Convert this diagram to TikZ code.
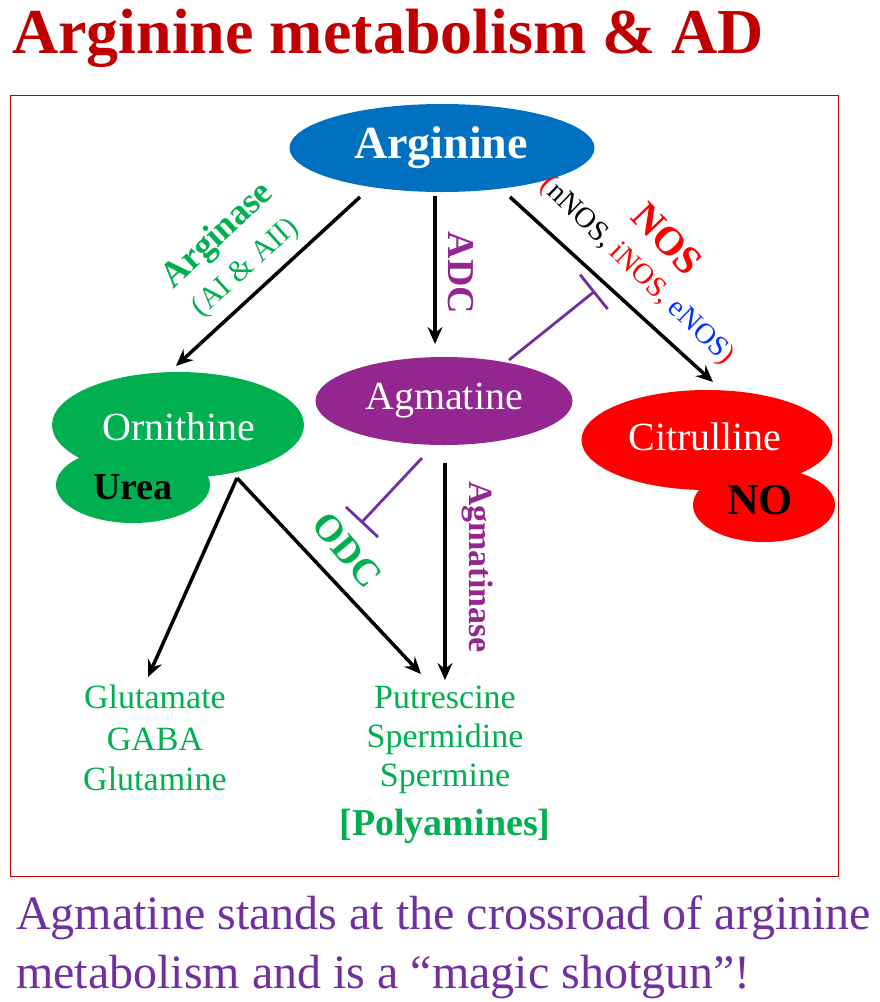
\documentclass[tikz,border=0pt]{standalone}
\usepackage{fontspec}
\setmainfont{Liberation Serif}
\usetikzlibrary{shapes.geometric,arrows.meta}
\definecolor{titlered}{HTML}{C00000}
\definecolor{argblue}{HTML}{0070C0}
\definecolor{agmpurple}{HTML}{93278F}
\definecolor{inhviolet}{HTML}{7030A0}
\definecolor{grn}{HTML}{00B050}
\definecolor{nosred}{HTML}{FF0000}
\definecolor{nosblue}{HTML}{0033FF}
\newcommand\fsz[1]{\fontsize{#1}{#1}\selectfont}
\tikzset{
  blob/.style={ellipse, inner sep=0pt, draw=none},
  conv/.style={line width=3.5pt, black, -{Stealth[length=17pt,width=15pt,inset=6pt]}},
  inhib/.style={line width=2.8pt, inhviolet, -{Bar[width=44pt,line width=2.8pt]}},
  lbl/.style={inner sep=0pt, anchor=center},
}
\begin{document}
\begin{tikzpicture}[x=1pt,y=-1pt]
\useasboundingbox (0,0) rectangle (880,1002);
% title
\node[lbl, anchor=west, text=titlered] (title) at (12,38) {\fsz{64}\bfseries Arginine metabolism \& AD};
% frame
\draw[titlered, line width=1pt] (10,95) rectangle (838,876);
% ellipses
\node[blob, fill=argblue, minimum width=305pt, minimum height=88pt] (arg) at (442,148) {};
\node[lbl, text=white] (argt) at (441,148) {\fsz{46}\bfseries Arginine};
\node[blob, fill=agmpurple, minimum width=257pt, minimum height=88pt] (agm) at (444,401) {};
\node[lbl, text=white] (agmt) at (444,401) {\fsz{40}Agmatine};
\node[blob, fill=grn, minimum width=252pt, minimum height=106pt] (orn) at (178,425) {};
\node[blob, fill=grn, minimum width=154pt, minimum height=76pt] (urea) at (133,485) {};
\node[lbl, text=white] (ornt) at (179,427) {\fsz{40}Ornithine};
\node[lbl, text=black] (ureat) at (133,487) {\fsz{38}\bfseries Urea};
\node[blob, fill=nosred, minimum width=251pt, minimum height=100pt] (cit) at (707,440) {};
\node[blob, fill=nosred, minimum width=142pt, minimum height=74pt] (no) at (764,505) {};
\node[lbl, text=white] (citt) at (705,437) {\fsz{40}Citrulline};
\node[lbl, text=black] (not) at (760,500) {\fsz{44}\bfseries NO};
% bottom product texts
\node[lbl, text=grn] (glu) at (155,697) {\fsz{34}Glutamate};
\node[lbl, text=grn] (gaba) at (155,739) {\fsz{34}GABA};
\node[lbl, text=grn] (gln) at (155,779) {\fsz{34}Glutamine};
\node[lbl, text=grn] (put) at (445,697) {\fsz{34}Putrescine};
\node[lbl, text=grn] (spd) at (445,739) {\fsz{34}Spermidine};
\node[lbl, text=grn] (spm) at (445,779) {\fsz{34}Spermine};
\node[lbl, text=grn] (poly) at (445,826) {\fsz{38}\bfseries [Polyamines]};
% connector end points
\coordinate (s1) at (360,197);
\coordinate (e1) at (176,366);
\coordinate (s2) at (435,196);
\coordinate (e2) at (435,344);
\coordinate (s3) at (510,197);
\coordinate (e3) at (713,382);
\coordinate (s4) at (237,478);
\coordinate (e4) at (148,677);
\coordinate (e5) at (421,674);
\coordinate (s6) at (445,463);
\coordinate (e6) at (445,680);
\coordinate (i1s) at (509,360);
\coordinate (i1e) at (595,291);
\coordinate (i2s) at (422,458);
\coordinate (i2e) at (361,523);
% arrows
\draw[conv] (s1) -- (e1);
\draw[conv] (s2) -- (e2);
\draw[conv] (s3) -- (e3);
\draw[conv] (s4) -- (e4);
\draw[conv] (s4) -- (e5);
\draw[conv] (s6) -- (e6);
% inhibitions
\draw[inhib] (i1s) -- (i1e);
\draw[inhib] (i2s) -- (i2e);
% enzyme labels
\node[lbl, text=grn, rotate=43] (argase) at (218,236) {\fsz{36}\bfseries Arginase};
\node[lbl, text=grn, rotate=42] (argsub) at (246,268) {\fsz{30}(AI \& AII)};
\node[lbl, text=agmpurple, rotate=-90] (adc) at (461,273) {\fsz{38}\bfseries ADC};
\node[lbl, text=nosred, rotate=-46] (nos) at (667,239) {\fsz{40}\bfseries NOS};
\node[lbl, rotate=-44] (nossub) at (637,271) {\fsz{29}\textcolor{nosred}{(}nNOS, \textcolor{nosred}{iNOS,} \textcolor{nosblue}{eNOS}\textcolor{nosred}{)}};
\node[lbl, text=grn, rotate=-50] (odc) at (347,550) {\fsz{38}\bfseries ODC};
\node[lbl, text=agmpurple, rotate=-90] (agmase) at (478,567) {\fsz{34}\bfseries Agmatinase};
% caption
\node[lbl, anchor=base west, text=inhviolet] (cap1) at (16,929) {\fsz{48}Agmatine stands at the crossroad of arginine};
\node[lbl, anchor=base west, text=inhviolet] (cap2) at (16,988) {\fsz{48}metabolism and is a “magic shotgun”!};
\end{tikzpicture}
\end{document}
